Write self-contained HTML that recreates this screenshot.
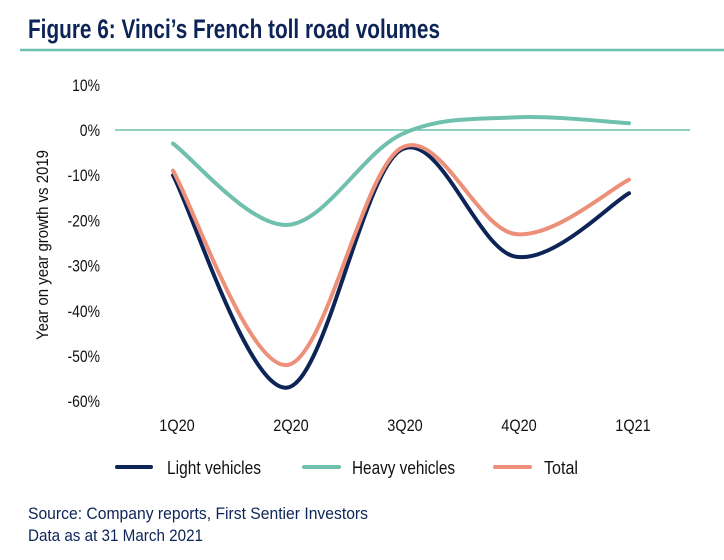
<!DOCTYPE html>
<html><head><meta charset="utf-8"><style>
body{margin:0;background:#fff;}
svg{display:block;font-family:"Liberation Sans",sans-serif;}
</style></head><body>
<svg id="chart" width="724" height="560" viewBox="0 0 724 560">
<text x="28" y="38" font-size="27" font-weight="bold" fill="#0d2457" textLength="412" lengthAdjust="spacingAndGlyphs">Figure 6: Vinci’s French toll road volumes</text>
<line x1="20" y1="50" x2="724" y2="50" stroke="#6fc0ad" stroke-width="2.5"/>
<g id="yaxis"></g>
<g id="xaxis"></g>
<line id="zero" stroke="#6fc0ad" stroke-width="1.5"/>
<g id="series"></g>
<text transform="translate(48,245) rotate(-90)" text-anchor="middle" font-size="17" fill="#111" textLength="190" lengthAdjust="spacingAndGlyphs">Year on year growth vs 2019</text>
<g>
<g><line x1="117" y1="467" x2="151" y2="467" stroke="#0d2457" stroke-width="4" stroke-linecap="round"/><text x="167" y="474" font-size="18" fill="#111" textLength="94" lengthAdjust="spacingAndGlyphs">Light vehicles</text></g>
<g><line x1="304" y1="467" x2="339" y2="467" stroke="#6fc0ad" stroke-width="4" stroke-linecap="round"/><text x="352" y="474" font-size="18" fill="#111" textLength="103" lengthAdjust="spacingAndGlyphs">Heavy vehicles</text></g>
<g><line x1="495" y1="467" x2="530" y2="467" stroke="#ec907a" stroke-width="4" stroke-linecap="round"/><text x="544" y="474" font-size="18" fill="#111" textLength="34" lengthAdjust="spacingAndGlyphs">Total</text></g>
</g>
<text x="28" y="519" font-size="17" fill="#0d2457" textLength="340" lengthAdjust="spacingAndGlyphs">Source: Company reports, First Sentier Investors</text>
<text x="28" y="541" font-size="17" fill="#0d2457" textLength="175" lengthAdjust="spacingAndGlyphs">Data as at 31 March 2021</text>
</svg>
<script>
const categories=["1Q20","2Q20","3Q20","4Q20","1Q21"];
const lightVehicles=[-10,-57,-4.4,-28,-14];
const heavyVehicles=[-3,-21,-1,2.8,1.5];
const totalVolumes=[-9,-52,-4,-23,-11];
const yTicks=[10,0,-10,-20,-30,-40,-50,-60];
const NS="http://www.w3.org/2000/svg";
const x0=173,xStep=114;
function xs(i){return x0+i*xStep;}
function ys(v){return 130-v*4.52;}
function condense(e,f){const w=e.getComputedTextLength();e.setAttribute('textLength',(w*f).toFixed(1));e.setAttribute('lengthAdjust','spacingAndGlyphs');}
const yaxis=document.getElementById('yaxis');
yTicks.forEach(t=>{const e=document.createElementNS(NS,'text');


e.setAttribute('x',100);e.setAttribute('y',ys(t)+6);e.setAttribute('text-anchor','end');e.setAttribute('font-size','17');e.setAttribute('fill','#111');e.textContent=t+'%';yaxis.appendChild(e);condense(e,0.82);});
const xaxis=document.getElementById('xaxis');
categories.forEach((c,i)=>{const e=document.createElementNS(NS,'text');


e.setAttribute('x',xs(i)+4);e.setAttribute('y',431);e.setAttribute('text-anchor','middle');e.setAttribute('font-size','17');e.setAttribute('fill','#111');e.textContent=c;xaxis.appendChild(e);condense(e,0.85);});
const z=document.getElementById('zero');
z.setAttribute('x1',115);z.setAttribute('x2',690);z.setAttribute('y1',ys(0));z.setAttribute('y2',ys(0));
function pathFor(vals){const p=vals.map((v,i)=>[xs(i),ys(v)]);let d='M'+p[0][0]+','+p[0][1];
for(let i=0;i<p.length-1;i++){const a=p[i-1]||p[i],b=p[i],c=p[i+1],e=p[i+2]||c;
const c1=[b[0]+(c[0]-a[0])/6,b[1]+(c[1]-a[1])/6],c2=[c[0]-(e[0]-b[0])/6,c[1]-(e[1]-b[1])/6];
d+=' C'+c1+' '+c2+' '+c;}return d;}
const g=document.getElementById('series');
[[heavyVehicles,'#6fc0ad','line-heavy-vehicles'],[lightVehicles,'#0d2457','line-light-vehicles'],[totalVolumes,'#ec907a','line-total']].forEach(s=>{
const p=document.createElementNS(NS,'path');


p.setAttribute('d',pathFor(s[0]));p.setAttribute('fill','none');p.setAttribute('stroke',s[1]);p.setAttribute('stroke-width','4');p.setAttribute('stroke-linecap','round');g.appendChild(p);});
</script>
</body></html>
